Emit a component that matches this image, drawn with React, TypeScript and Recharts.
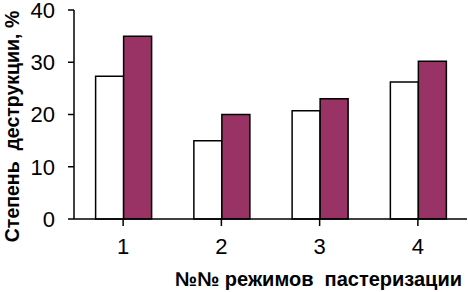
import React from 'react';
import { BarChart, Bar, XAxis, YAxis } from 'recharts';

const categories = ['1', '2', '3', '4'];
const seriesWhite = [27.3, 15.0, 20.7, 26.2];
const seriesPurple = [35.0, 20.0, 23.0, 30.2];
const yTicks = [0, 10, 20, 30, 40];
const xTitle = '№№ режимов  пастеризации';
const yTitle = 'Степень  деструкции, %';

const data = categories.map((c, i) => ({ name: c, a: seriesWhite[i], b: seriesPurple[i] }));

const font = 'Arial, "Liberation Sans", Helvetica, sans-serif';

const XTitle = (props: any) => {
  const vb = props.viewBox || { x: 74, y: 219, width: 393, height: 73 };
  return (
    <text
      x={vb.x + vb.width - 5}
      y={vb.y + 67}
      textAnchor="end"
      fill="#000"
      fontSize={20}
      fontWeight="bold"
      fontFamily={font}
      style={{ whiteSpace: 'pre' }}
    >
      {xTitle}
    </text>
  );
};

const YTitle = (props: any) => {
  const vb = props.viewBox || { x: 0, y: 10, width: 74, height: 209 };
  const cx = vb.x + 12;
  const cy = vb.y + vb.height / 2 + 12;
  return (
    <text
      x={cx}
      y={cy}
      transform={`rotate(-90, ${cx}, ${cy})`}
      textAnchor="middle"
      dominantBaseline="central"
      fill="#000"
      fontSize={19.5}
      fontWeight="bold"
      fontFamily={font}
      style={{ whiteSpace: 'pre' }}
    >
      {yTitle}
    </text>
  );
};

export default function App() {
  return (
    <div style={{ position: 'absolute', left: 0, top: 0, width: 468, height: 292, background: '#fff' }}>
      <BarChart
        width={468}
        height={292}
        data={data}
        margin={{ top: 10, right: 1, bottom: 0, left: 0 }}
        barCategoryGap="22%"
        barGap={0}
      >
        <XAxis
          dataKey="name"
          height={73}
          axisLine={{ stroke: '#000', strokeWidth: 1.5 }}
          tickLine={{ stroke: '#000', strokeWidth: 1.5 }}
          tickSize={7}
          tickMargin={12}
          tick={{ fill: '#000', fontSize: 22, fontFamily: font }}
          label={<XTitle />}
        />
        <YAxis
          width={74}
          domain={[0, 40]}
          ticks={yTicks}
          interval={0}
          axisLine={{ stroke: '#000', strokeWidth: 1.5 }}
          tickLine={{ stroke: '#000', strokeWidth: 1.5 }}
          tickSize={6}
          tickMargin={13}
          tick={{ fill: '#000', fontSize: 22, fontFamily: font }}
          label={<YTitle />}
        />
        <Bar dataKey="a" fill="#ffffff" stroke="#000" strokeWidth={1.5} isAnimationActive={false} />
        <Bar dataKey="b" fill="#993366" stroke="#000" strokeWidth={1.5} isAnimationActive={false} />
      </BarChart>
    </div>
  );
}
